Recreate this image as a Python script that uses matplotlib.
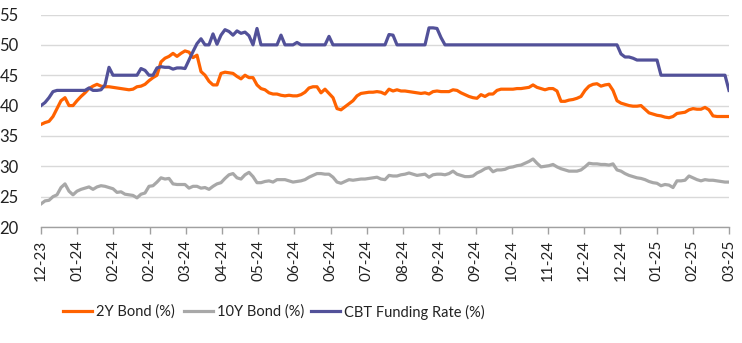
import numpy as np
import matplotlib
matplotlib.use("Agg")
import matplotlib.pyplot as plt

tick_labels = ["12-23", "01-24", "02-24", "02-24", "03-24", "04-24", "05-24",
               "06-24", "06-24", "07-24", "08-24", "09-24", "09-24", "10-24",
               "11-24", "12-24", "12-24", "01-25", "02-25", "03-25"]

bond_2y = [
    36.9, 37.2, 37.4, 38.2, 39.5, 40.8, 41.3, 40.0, 40.0, 40.8,
    41.5, 42.1, 42.8, 43.2, 43.5, 43.2, 43.1, 43.1, 43.0, 42.9,
    42.8, 42.7, 42.6, 42.7, 43.1, 43.2, 43.5, 44.1, 44.6, 45.0,
    47.2, 47.8, 48.1, 48.6, 48.1, 48.6, 49.0, 48.8, 47.9, 48.3,
    45.6, 45.0, 44.0, 43.4, 43.4, 45.3, 45.5, 45.4, 45.3, 44.8,
    44.4, 45.0, 44.6, 44.6, 43.4, 42.8, 42.6, 42.1, 41.9, 41.9,
    41.7, 41.6, 41.7, 41.6, 41.6, 41.8, 42.2, 42.9, 43.1, 43.1,
    42.1, 42.7, 42.0, 41.3, 39.5, 39.3, 39.8, 40.3, 40.8, 41.6,
    42.0, 42.1, 42.2, 42.2, 42.3, 42.2, 41.9, 42.7, 42.4, 42.6,
    42.4, 42.4, 42.3, 42.2, 42.1, 42.0, 42.1, 41.9, 42.3, 42.4,
    42.3, 42.3, 42.3, 42.6, 42.5, 42.1, 41.8, 41.5, 41.3, 41.2,
    41.8, 41.5, 41.9, 41.9, 42.5, 42.7, 42.7, 42.7, 42.7, 42.8,
    42.8, 42.9, 43.0, 43.4, 43.0, 42.8, 42.6, 42.8, 42.8, 42.4,
    40.7, 40.7, 40.9, 41.0, 41.2, 41.5, 42.5, 43.2, 43.5, 43.6,
    43.2, 43.4, 43.5, 42.5, 40.8, 40.4, 40.2, 40.0, 39.9, 39.9,
    40.0, 39.4, 38.8, 38.6, 38.4, 38.3, 38.1, 38.0, 38.2, 38.7,
    38.8, 38.9, 39.3, 39.5, 39.4, 39.4, 39.7, 39.3, 38.3, 38.2,
    38.2, 38.2, 38.2,
]

bond_10y = [
    23.8, 24.3, 24.4, 25.0, 25.3, 26.5, 27.1, 25.9, 25.3, 25.9,
    26.2, 26.4, 26.6, 26.2, 26.6, 26.8, 26.7, 26.5, 26.3, 25.7,
    25.8, 25.4, 25.3, 25.2, 24.8, 25.4, 25.6, 26.7, 26.8, 27.4,
    28.1, 27.9, 28.0, 27.1, 27.0, 27.0, 27.0, 26.4, 26.7, 26.7,
    26.4, 26.5, 26.2, 26.7, 27.1, 27.3, 28.0, 28.6, 28.8, 28.1,
    27.9, 28.6, 29.0, 28.3, 27.3, 27.3, 27.5, 27.6, 27.4, 27.8,
    27.8, 27.8, 27.6, 27.4, 27.5, 27.6, 27.8, 28.2, 28.5, 28.8,
    28.8, 28.7, 28.7, 28.2, 27.4, 27.2, 27.5, 27.8, 27.7, 27.8,
    27.9, 27.9, 28.0, 28.1, 28.2, 27.9, 27.8, 28.5, 28.4, 28.4,
    28.6, 28.7, 28.9, 28.7, 28.5, 28.6, 28.7, 28.2, 28.6, 28.7,
    28.7, 28.6, 28.8, 29.2, 28.7, 28.5, 28.3, 28.3, 28.4, 28.9,
    29.2, 29.6, 29.8, 29.1, 29.4, 29.4, 29.5, 29.8, 29.9, 30.1,
    30.2, 30.5, 30.8, 31.2, 30.5, 29.9, 30.0, 30.1, 30.3, 29.9,
    29.6, 29.4, 29.2, 29.2, 29.2, 29.4, 29.9, 30.5, 30.4, 30.4,
    30.3, 30.3, 30.2, 30.4, 29.4, 29.2, 28.8, 28.5, 28.3, 28.1,
    28.0, 27.8, 27.5, 27.3, 27.2, 26.8, 27.0, 26.9, 26.5, 27.6,
    27.6, 27.7, 28.4, 28.1, 27.8, 27.6, 27.8, 27.7, 27.7, 27.6,
    27.5, 27.4, 27.4,
]

cbt_rate = [
    40.0, 40.5, 41.3, 42.3, 42.5, 42.5, 42.5, 42.5, 42.5, 42.5,
    42.5, 42.5, 42.9, 42.5, 42.5, 42.6, 43.4, 46.3, 45.0, 45.0,
    45.0, 45.0, 45.0, 45.0, 45.0, 46.1, 45.8, 45.0, 45.0, 46.2,
    46.4, 46.3, 46.3, 46.0, 46.2, 46.2, 46.1, 47.5, 48.9, 50.2,
    51.0, 50.0, 50.0, 51.8, 50.1, 51.6, 52.5, 52.2, 51.6, 52.3,
    51.9, 52.1, 51.5, 50.0, 52.7, 50.0, 50.0, 50.0, 50.0, 50.0,
    51.6, 50.0, 50.0, 50.0, 50.4, 50.0, 50.0, 50.0, 50.0, 50.0,
    50.0, 50.0, 51.4, 50.0, 50.0, 50.0, 50.0, 50.0, 50.0, 50.0,
    50.0, 50.0, 50.0, 50.0, 50.0, 50.0, 50.0, 51.7, 51.6, 50.0,
    50.0, 50.0, 50.0, 50.0, 50.0, 50.0, 50.0, 52.8, 52.8, 52.7,
    51.2, 50.0, 50.0, 50.0, 50.0, 50.0, 50.0, 50.0, 50.0, 50.0,
    50.0, 50.0, 50.0, 50.0, 50.0, 50.0, 50.0, 50.0, 50.0, 50.0,
    50.0, 50.0, 50.0, 50.0, 50.0, 50.0, 50.0, 50.0, 50.0, 50.0,
    50.0, 50.0, 50.0, 50.0, 50.0, 50.0, 50.0, 50.0, 50.0, 50.0,
    50.0, 50.0, 50.0, 50.0, 50.0, 48.5, 48.0, 48.0, 47.8, 47.5,
    47.5, 47.5, 47.5, 47.5, 47.5, 45.0, 45.0, 45.0, 45.0, 45.0,
    45.0, 45.0, 45.0, 45.0, 45.0, 45.0, 45.0, 45.0, 45.0, 45.0,
    45.0, 45.0, 42.5,
]

series_names = ['2Y Bond (%)', '10Y Bond (%)', 'CBT Funding Rate (%)']
series_colors = ['#FF6200', '#A8A8A8', '#525199']

plt.rcParams['font.family'] = ['Lato', 'DejaVu Sans']

fig = plt.figure(figsize=(7.42, 3.43), dpi=100)
ax = fig.add_axes([41 / 742, 116 / 343, 688 / 742, 212.5 / 343])

x = np.arange(len(bond_2y))
lines = []
for vals, name, col in zip([bond_2y, bond_10y, cbt_rate], series_names, series_colors):
    ln, = ax.plot(x, vals, color=col, lw=2.3, label=name, solid_joinstyle='round')
    lines.append(ln)

ax.set_xlim(0, len(x) - 1)
ax.set_ylim(20, 55)
ax.set_yticks(np.arange(20, 56, 5))
ax.yaxis.grid(True, color='#D9D9D9', lw=1)
ax.set_axisbelow(True)

ax.set_xticks(np.linspace(0, len(x) - 1, len(tick_labels)))
ax.set_xticklabels(tick_labels, rotation=90)

for s in ['top', 'right', 'left']:
    ax.spines[s].set_visible(False)
ax.spines['bottom'].set_color('#A0A0A0')
ax.spines['bottom'].set_linewidth(1)

ax.tick_params(axis='y', length=0, pad=16, labelsize=12, colors='#222222')
ax.tick_params(axis='x', length=5, width=1, color='#A0A0A0', pad=4,
               labelsize=11, labelcolor='#222222')

# legend entries placed individually (as in the reference layout)
leg_x = [63, 184, 311]
for ln, px in zip(lines, leg_x):
    lg = fig.legend(handles=[ln], loc='center left',
                    bbox_to_anchor=(px / 742, 1 - 312 / 343),
                    frameon=False, fontsize=10.5, handlelength=2.0,
                    handletextpad=0.25, borderpad=0, borderaxespad=0)
    for t in lg.get_texts():
        t.set_color('#222222')

fig.savefig('out.png', dpi=100)
